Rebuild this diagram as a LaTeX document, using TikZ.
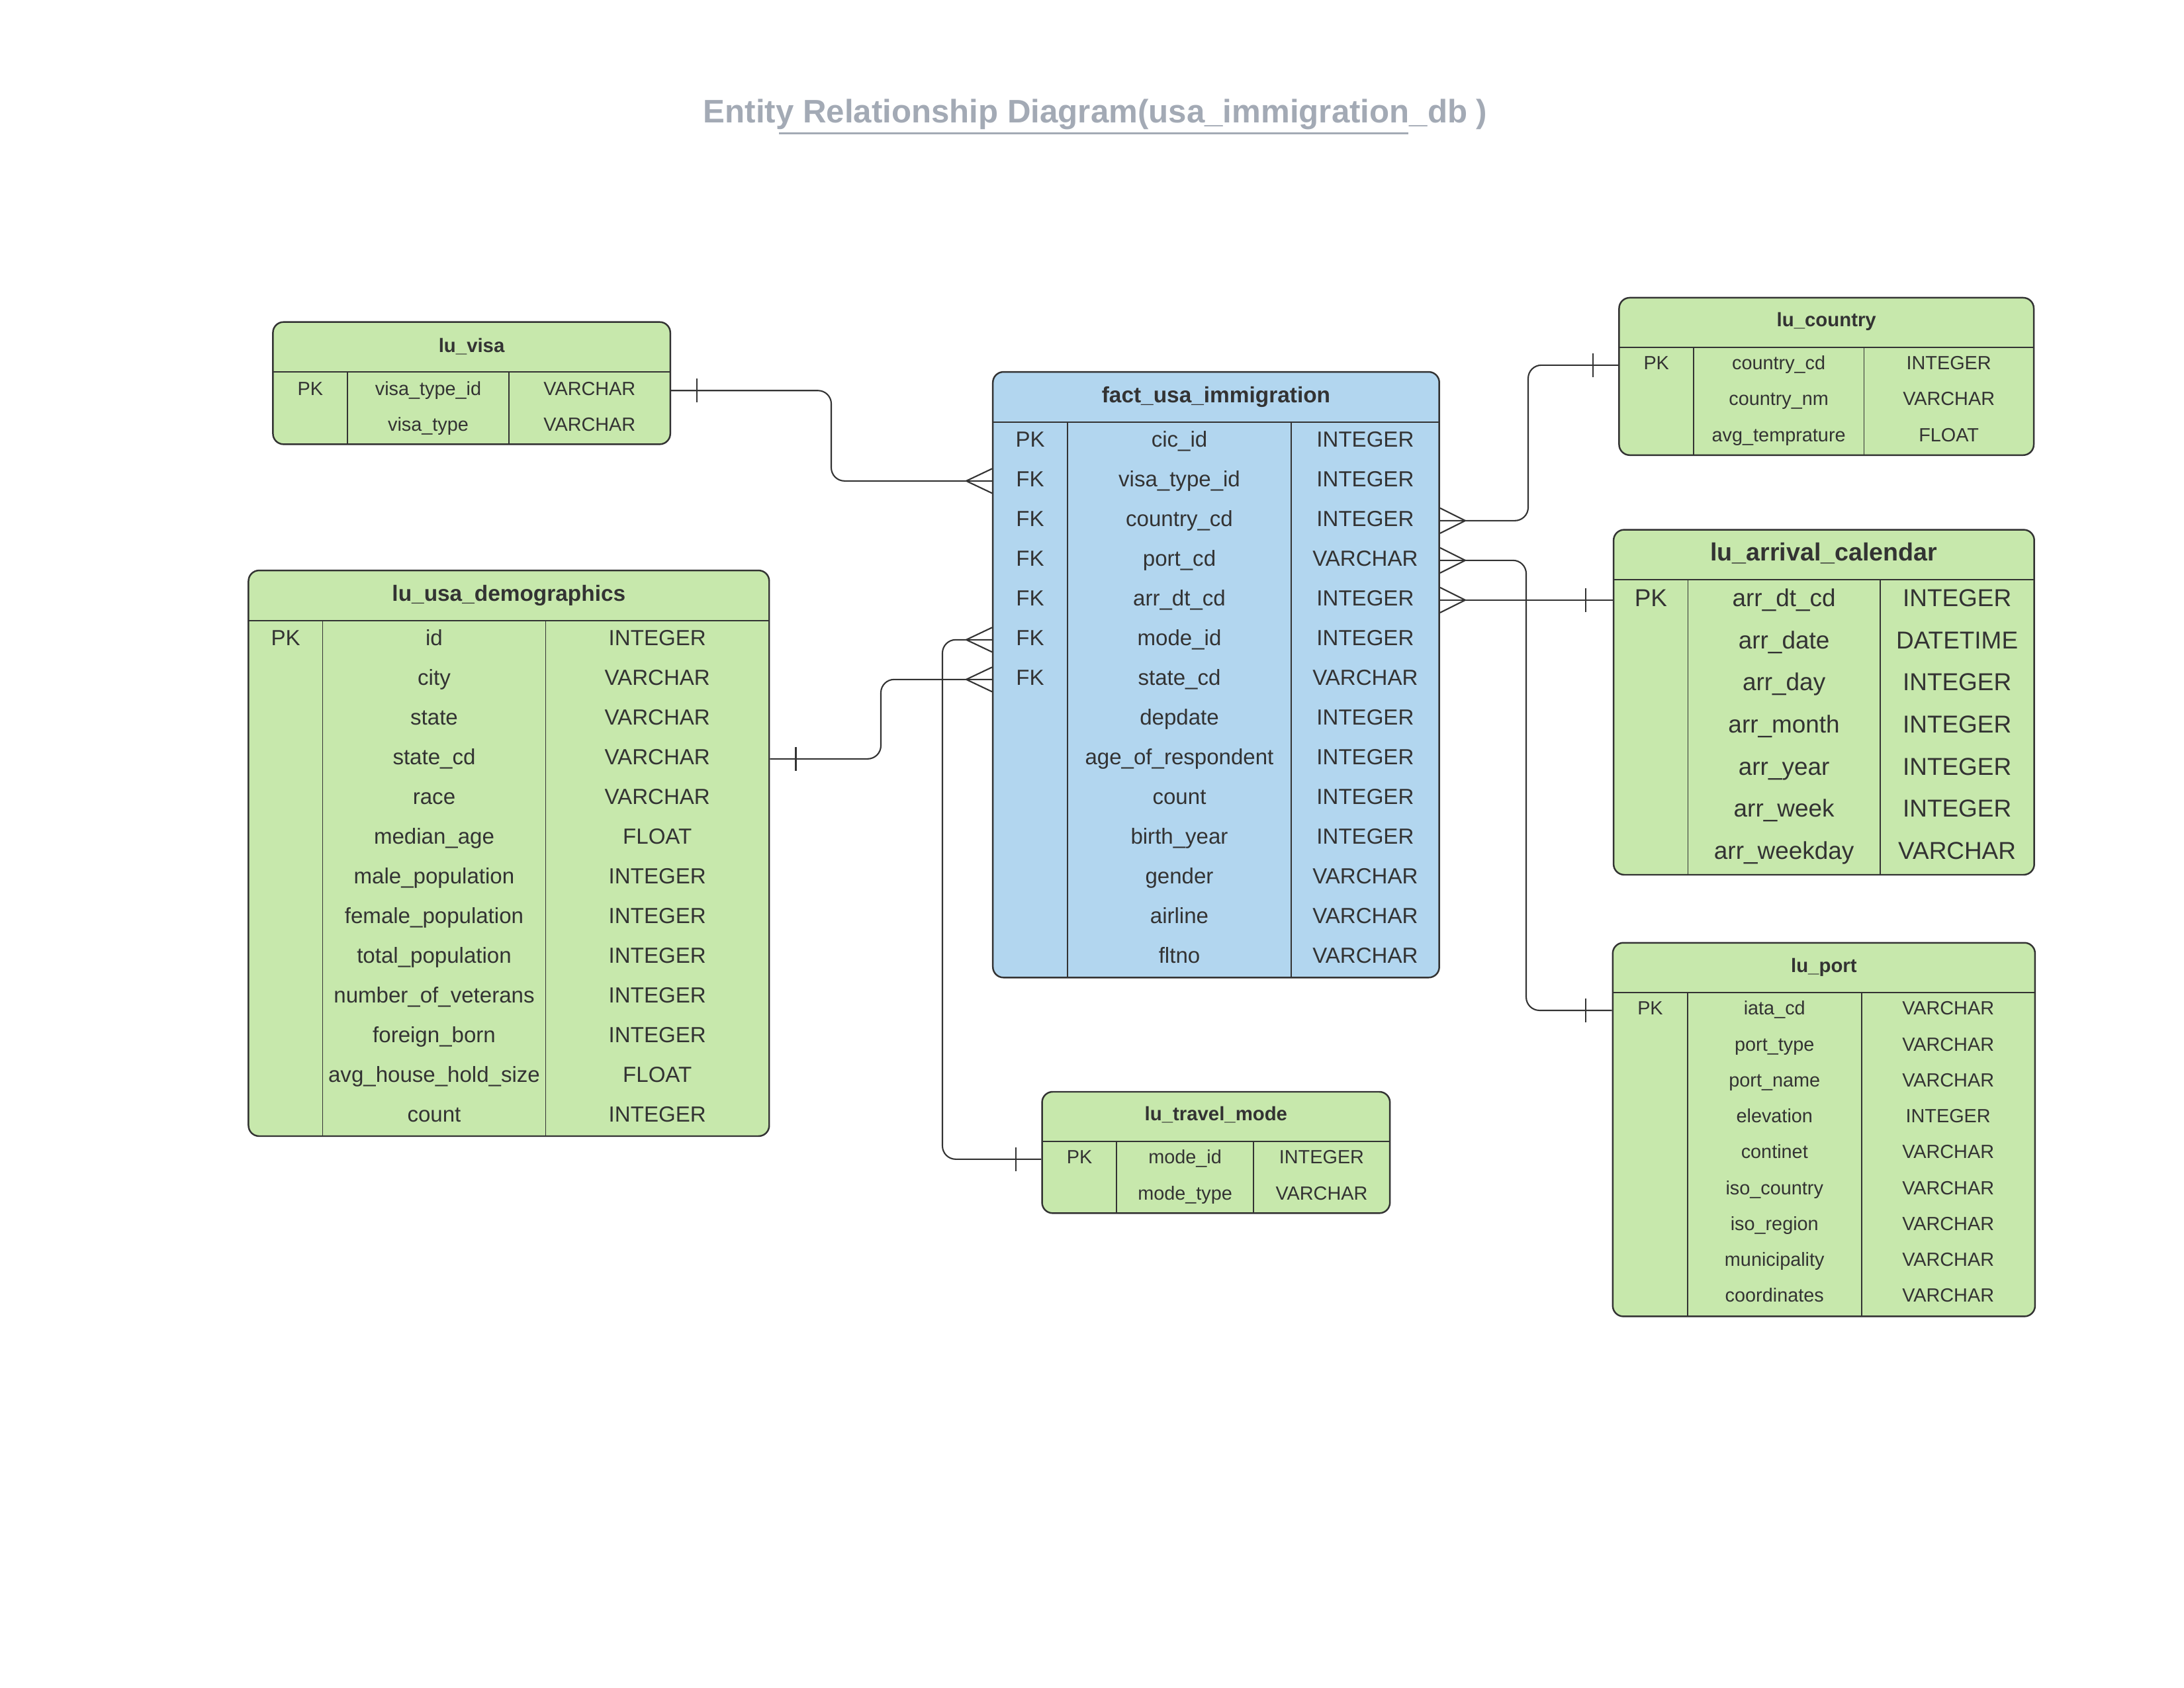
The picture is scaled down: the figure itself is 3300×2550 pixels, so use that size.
\documentclass[tikz,border=0pt]{standalone}
\usepackage{fontspec}
\setmainfont{Liberation Sans}
\usepackage{xcolor}
\definecolor{lgreen}{RGB}{199,232,172}
\definecolor{lblue}{RGB}{178,214,239}
\definecolor{dgrey}{RGB}{51,51,51}
\definecolor{tgrey}{RGB}{163,170,181}

\begin{document}
\begin{tikzpicture}[x=0.01cm, y=-0.01cm, color=dgrey]
  \tikzset{table box/.style={draw=dgrey,fill=#1,line width=0.7pt,rounded corners=1.6mm,inner sep=0pt},
    table rule/.style={draw=dgrey,line width=0.5pt},
    cell/.style 2 args={inner sep=0pt,text=dgrey,font=\fontsize{#1}{#1}\selectfont,text height=#2,text depth=0pt},
    head/.style 2 args={inner sep=0pt,text=dgrey,font=\fontsize{#1}{#1}\selectfont\bfseries,text height=#2,text depth=0pt},
    small cell/.style={cell={8.2}{5.87pt}},
    mid cell/.style={cell={9.4}{6.73pt}},
    big cell/.style={cell={10.5}{7.52pt}},
    small head/.style={head={8.35}{5.98pt}},
    mid head/.style={head={9.5}{6.8pt}},
    big head/.style={head={10.7}{7.66pt}},
    relation/.style={draw=dgrey,line width=0.6pt,rounded corners=2mm},
    notch/.style={draw=dgrey,line width=0.6pt}}

  \useasboundingbox (0,0) rectangle (3300,2550);

  \node[head={14}{10pt}, text=tgrey] (title) at (1655,168) {Entity Relationship Diagram(usa\_immigration\_db )};
  \draw[tgrey, line width=1pt] (1177,201.7) -- (2128,201.7);

  % lu_visa
  \node[table box=lgreen, minimum width=6cm, minimum height=1.846cm] (visa) at (712.6,579) {};
  \draw[table rule] (412.6,562.3) -- (1012.6,562.3) (524.9,562.3) -- (524.9,671.3) (769.1,562.3) -- (769.1,671.3);
  \node[small head] (visaHead) at (712.6,521.7) {lu\_visa};
  \node[small cell] (visaPK) at (468.75,586.7) {PK};
  \foreach \nm/\ty [count=\row from 0] in {visa\_type\_id/VARCHAR, visa\_type/VARCHAR}{
    \node[small cell] (visa\row) at (647,586.7+54*\row) {\nm};
    \node[small cell] (visaT\row) at (890.85,586.7+54*\row) {\ty};
  }

  % fact_usa_immigration
  \node[table box=lblue, minimum width=6.741cm, minimum height=9.147cm] (fact) at (1837.45,1019.65) {};
  \draw[table rule] (1500.4,637.7) -- (2174.5,637.7) (1612.7,637.7) -- (1612.7,1477) (1951.3,637.7) -- (1951.3,1477);
  \node[mid head] (factHead) at (1837.45,596.7) {fact\_usa\_immigration};
  \node[mid cell] (factPK) at (1556.55,663.3) {PK};
  \foreach \row in {1,...,6} \node[mid cell] (factK\row) at (1556.55,663.3+60*\row) {FK};
  \foreach \nm/\ty [count=\row from 0] in {cic\_id/INTEGER, visa\_type\_id/INTEGER, country\_cd/INTEGER,
      port\_cd/VARCHAR, arr\_dt\_cd/INTEGER, mode\_id/INTEGER, state\_cd/VARCHAR, depdate/INTEGER,
      age\_of\_respondent/INTEGER, count/INTEGER, birth\_year/INTEGER, gender/VARCHAR, airline/VARCHAR, fltno/VARCHAR}{
    \node[mid cell] (fact\row) at (1782,663.3+60*\row) {\nm};
    \node[mid cell] (factT\row) at (2062.9,663.3+60*\row) {\ty};
  }

  % lu_usa_demographics
  \node[table box=lgreen, minimum width=7.863cm, minimum height=8.544cm] (demo) at (768.85,1289.5) {};
  \draw[table rule] (375.7,937.7) -- (1162,937.7) (487.6,937.7) -- (487.6,1716.7) (824.4,937.7) -- (824.4,1716.7);
  \node[mid head] (demoHead) at (768.85,896.7) {lu\_usa\_demographics};
  \node[mid cell] (demoPK) at (431.65,963.3) {PK};
  \foreach \nm/\ty [count=\row from 0] in {id/INTEGER, city/VARCHAR, state/VARCHAR, state\_cd/VARCHAR,
      race/VARCHAR, median\_age/FLOAT, male\_population/INTEGER, female\_population/INTEGER,
      total\_population/INTEGER, number\_of\_veterans/INTEGER, foreign\_born/INTEGER,
      avg\_house\_hold\_size/FLOAT, count/INTEGER}{
    \node[mid cell] (demo\row) at (656,963.3+60*\row) {\nm};
    \node[mid cell] (demoT\row) at (993.2,963.3+60*\row) {\ty};
  }

  % lu_country
  \node[table box=lgreen, minimum width=6.262cm, minimum height=2.377cm] (country) at (2759.7,568.85) {};
  \draw[table rule] (2446.6,525) -- (3072.8,525) (2558.8,525) -- (2558.8,687.7) (2816.5,525) -- (2816.5,687.7);
  \node[small head] (countryHead) at (2759.7,483.3) {lu\_country};
  \node[small cell] (countryPK) at (2502.7,548.3) {PK};
  \foreach \nm/\ty [count=\row from 0] in {country\_cd/INTEGER, country\_nm/VARCHAR, avg\_temprature/FLOAT}{
    \node[small cell] (country\row) at (2687.65,548.3+54.2*\row) {\nm};
    \node[small cell] (countryT\row) at (2944.65,548.3+54.2*\row) {\ty};
  }

  % lu_arrival_calendar
  \node[table box=lgreen, minimum width=6.352cm, minimum height=5.211cm] (arrival) at (2755.9,1061.25) {};
  \draw[table rule] (2438.3,875.7) -- (3073.5,875.7) (2550.5,875.7) -- (2550.5,1321.8) (2840.7,875.7) -- (2840.7,1321.8);
  \node[big head] (arrivalHead) at (2755.9,833.6) {lu\_arrival\_calendar};
  \node[big cell] (arrivalPK) at (2494.4,903.2) {PK};
  \foreach \nm/\ty [count=\row from 0] in {arr\_dt\_cd/INTEGER, arr\_date/DATETIME, arr\_day/INTEGER,
      arr\_month/INTEGER, arr\_year/INTEGER, arr\_week/INTEGER, arr\_weekday/VARCHAR}{
    \node[big cell] (arrival\row) at (2695.6,903.2+63.7*\row) {\nm};
    \node[big cell] (arrivalT\row) at (2957.1,903.2+63.7*\row) {\ty};
  }

  % lu_port
  \node[table box=lgreen, minimum width=6.377cm, minimum height=5.643cm] (port) at (2755.85,1707.05) {};
  \draw[table rule] (2437,1499.6) -- (3074.7,1499.6) (2549.9,1499.6) -- (2549.9,1989.2) (2812.6,1499.6) -- (2812.6,1989.2);
  \node[small head] (portHead) at (2755.85,1459.3) {lu\_port};
  \node[small cell] (portPK) at (2493.45,1523.4) {PK};
  \foreach \nm/\ty [count=\row from 0] in {iata\_cd/VARCHAR, port\_type/VARCHAR, port\_name/VARCHAR,
      elevation/INTEGER, continet/VARCHAR, iso\_country/VARCHAR, iso\_region/VARCHAR,
      municipality/VARCHAR, coordinates/VARCHAR}{
    \node[small cell] (port\row) at (2681.25,1523.4+54.26*\row) {\nm};
    \node[small cell] (portT\row) at (2943.65,1523.4+54.26*\row) {\ty};
  }

  % lu_travel_mode
  \node[table box=lgreen, minimum width=5.253cm, minimum height=1.833cm] (mode) at (1837.35,1741.65) {};
  \draw[table rule] (1574.7,1725) -- (2100,1725) (1687.3,1725) -- (1687.3,1833.3) (1893.9,1725) -- (1893.9,1833.3);
  \node[small head] (modeHead) at (1837.35,1683.3) {lu\_travel\_mode};
  \node[small cell] (modePK) at (1631,1748.3) {PK};
  \foreach \nm/\ty [count=\row from 0] in {mode\_id/INTEGER, mode\_type/VARCHAR}{
    \node[small cell] (mode\row) at (1790.6,1748.3+55*\row) {\nm};
    \node[small cell] (modeT\row) at (1996.95,1748.3+55*\row) {\ty};
  }

  % relations
  \coordinate[yshift=-1pt] (visaR) at (visa0 -| visa.east);
  \coordinate[yshift=-1pt] (demoR) at (demo3 -| demo.east);
  \coordinate[yshift=-1pt] (countryL) at (country0 -| country.west);
  \coordinate[yshift=-1pt] (arrivalL) at (arrival0 -| arrival.west);
  \coordinate[yshift=-1pt] (portL) at (port0 -| port.west);
  \coordinate[yshift=-1pt] (modeL) at (mode0 -| mode.west);
  \coordinate[yshift=-1pt] (factL1) at (fact1 -| fact.west);
  \coordinate[yshift=-1pt] (factL5) at (fact5 -| fact.west);
  \coordinate[yshift=-1pt] (factL6) at (fact6 -| fact.west);
  \coordinate[yshift=-1pt] (factR2) at (fact2 -| fact.east);
  \coordinate[yshift=-1pt] (factR3) at (fact3 -| fact.east);
  \coordinate[yshift=-1pt] (factR4) at (fact4 -| fact.east);

  \draw[relation] (visaR) -| (1256,0 |- factL1) -- (factL1);
  \draw[relation] (demoR) -| (1331,0 |- factL6) -- (factL6);
  \draw[relation] (factL5) -| (1424,0 |- modeL) -- (modeL);
  \draw[relation] (factR2) -| (2309,0 |- countryL) -- (countryL);
  \draw[relation] (factR3) -| (2306,0 |- portL) -- (portL);
  \draw[relation] (factR4) -- (factR4 -| arrival.west);

  % one side
  \draw[notch] (visaR) ++(39,-18) -- ++(0,36);
  \draw[notch] (demoR) ++(39,-18) -- ++(0,36);
  \draw[notch] (modeL) ++(-38,-18) -- ++(0,36);
  \draw[notch] (countryL) ++(-38,-18) -- ++(0,36);
  \draw[notch] (arrivalL) ++(-41,-18) -- ++(0,36);
  \draw[notch] (portL) ++(-40,-18) -- ++(0,36);

  % many side
  \draw[notch] (factL1) ++(0,-18.5) -- ++(-39,18.5) -- ++(39,18.5);
  \draw[notch] (factL5) ++(0,-18.5) -- ++(-39,18.5) -- ++(39,18.5);
  \draw[notch] (factL6) ++(0,-18.5) -- ++(-39,18.5) -- ++(39,18.5);
  \draw[notch] (factR2) ++(0,-19) -- ++(38,19) -- ++(-38,19);
  \draw[notch] (factR3) ++(0,-19) -- ++(38,19) -- ++(-38,19);
  \draw[notch] (factR4) ++(0,-19) -- ++(38,19) -- ++(-38,19);
\end{tikzpicture}
\end{document}
